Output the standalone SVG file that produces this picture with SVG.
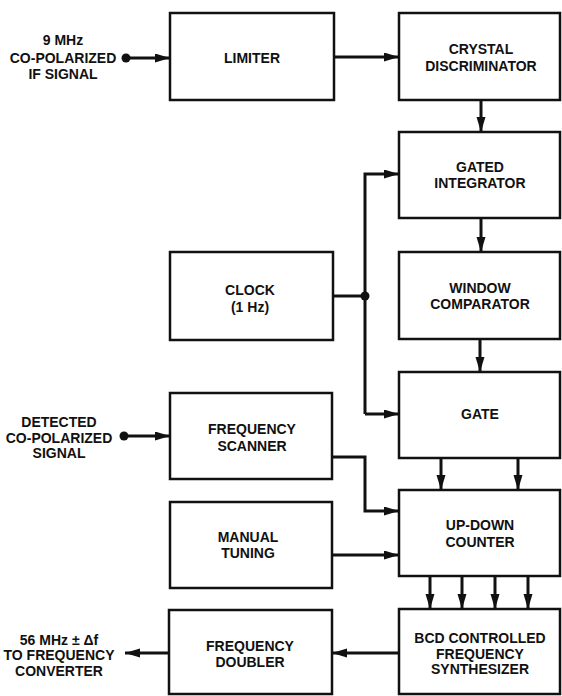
<svg xmlns="http://www.w3.org/2000/svg" width="562" height="696" viewBox="0 0 562 696">
<style>
.box{fill:#fff;stroke:#111;stroke-width:2.5}
.t{font-family:"Liberation Sans",Arial,sans-serif;font-weight:bold;font-size:14px;fill:#111;text-anchor:middle}
.w{fill:none;stroke:#111;stroke-width:3}
.dot{fill:#111}
</style>
<defs>
<marker id="ah" markerUnits="userSpaceOnUse" markerWidth="16" markerHeight="10" refX="15" refY="4.5" orient="auto">
<path d="M0,0 L15,4.5 L0,9 z" fill="#111"/>
</marker>
</defs>
<rect width="562" height="696" fill="#fff"/>

<g id="in-if">
<text class="t" x="63" y="45">9 MHz</text>
<text class="t" x="63" y="63">CO-POLARIZED</text>
<text class="t" x="63" y="79">IF SIGNAL</text>
</g>
<g id="in-detected">
<text class="t" x="59" y="427">DETECTED</text>
<text class="t" x="59" y="443">CO-POLARIZED</text>
<text class="t" x="59" y="458">SIGNAL</text>
</g>
<g id="out-converter">
<text class="t" x="59" y="645">56 MHz ± Δf</text>
<text class="t" x="59" y="660">TO FREQUENCY</text>
<text class="t" x="59" y="676">CONVERTER</text>
</g>

<g id="limiter">
<rect class="box" x="170" y="13" width="164" height="87"/>
<text class="t" x="252" y="63">LIMITER</text>
</g>
<g id="crystal-discriminator">
<rect class="box" x="399" y="13" width="161" height="87"/>
<text class="t" x="481" y="54">CRYSTAL</text>
<text class="t" x="481" y="71">DISCRIMINATOR</text>
</g>
<g id="gated-integrator">
<rect class="box" x="399" y="132" width="161" height="86"/>
<text class="t" x="480" y="172">GATED</text>
<text class="t" x="480" y="188">INTEGRATOR</text>
</g>
<g id="clock">
<rect class="box" x="170" y="252" width="163" height="88"/>
<text class="t" x="250" y="295">CLOCK</text>
<text class="t" x="250" y="312">(1 Hz)</text>
</g>
<g id="window-comparator">
<rect class="box" x="399" y="252" width="161" height="87"/>
<text class="t" x="480" y="293">WINDOW</text>
<text class="t" x="480" y="309">COMPARATOR</text>
</g>
<g id="gate">
<rect class="box" x="399" y="372" width="161" height="86"/>
<text class="t" x="480" y="419">GATE</text>
</g>
<g id="frequency-scanner">
<rect class="box" x="170" y="393" width="162" height="86"/>
<text class="t" x="252" y="434">FREQUENCY</text>
<text class="t" x="252" y="451">SCANNER</text>
</g>
<g id="up-down-counter">
<rect class="box" x="399" y="490" width="161" height="86"/>
<text class="t" x="480" y="530">UP-DOWN</text>
<text class="t" x="480" y="547">COUNTER</text>
</g>
<g id="manual-tuning">
<rect class="box" x="170" y="502" width="162" height="86"/>
<text class="t" x="248" y="542">MANUAL</text>
<text class="t" x="248" y="558">TUNING</text>
</g>
<g id="bcd-synthesizer">
<rect class="box" x="399" y="609" width="161" height="85"/>
<text class="t" x="480" y="643">BCD CONTROLLED</text>
<text class="t" x="480" y="659">FREQUENCY</text>
<text class="t" x="480" y="674">SYNTHESIZER</text>
</g>
<g id="frequency-doubler">
<rect class="box" x="169" y="610" width="163" height="84"/>
<text class="t" x="250" y="651">FREQUENCY</text>
<text class="t" x="250" y="667">DOUBLER</text>
</g>

<g id="connectors">
<circle class="dot" cx="126" cy="58" r="4.5"/>
<path class="w" d="M126,58 H170" marker-end="url(#ah)"/>
<path class="w" d="M334,57 H399" marker-end="url(#ah)"/>
<path class="w" d="M481,100 V132" marker-end="url(#ah)"/>
<path class="w" d="M333,296 H365"/>
<path class="w" d="M365,414 V174 H399" marker-end="url(#ah)"/>
<path class="w" d="M365,414 H399" marker-end="url(#ah)"/>
<circle class="dot" cx="365" cy="296" r="4.5"/>
<path class="w" d="M481,218 V252" marker-end="url(#ah)"/>
<path class="w" d="M480,339 V372" marker-end="url(#ah)"/>
<circle class="dot" cx="124" cy="436" r="4.5"/>
<path class="w" d="M124,436 H170" marker-end="url(#ah)"/>
<path class="w" d="M332,457 H365 V511 H399" marker-end="url(#ah)"/>
<path class="w" d="M441,458 V490" marker-end="url(#ah)"/>
<path class="w" d="M518,458 V490" marker-end="url(#ah)"/>
<path class="w" d="M332,555 H399" marker-end="url(#ah)"/>
<path class="w" d="M430,576 V609" marker-end="url(#ah)"/>
<path class="w" d="M462,576 V609" marker-end="url(#ah)"/>
<path class="w" d="M495,576 V609" marker-end="url(#ah)"/>
<path class="w" d="M528,576 V609" marker-end="url(#ah)"/>
<path class="w" d="M399,653 H332" marker-end="url(#ah)"/>
<path class="w" d="M169,653 H125" marker-end="url(#ah)"/>
</g>
</svg>
